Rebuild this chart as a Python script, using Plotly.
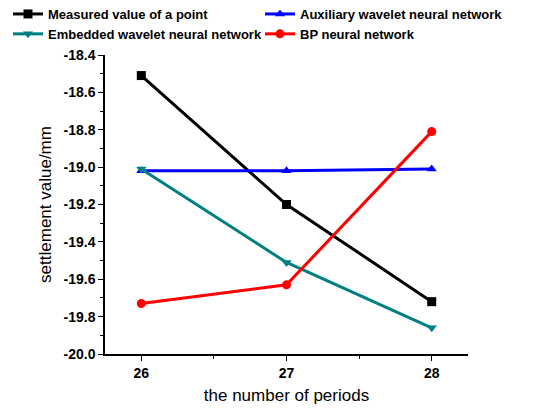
import plotly.graph_objects as go

periods = [26, 27, 28]
measured = [-18.51, -19.20, -19.72]
auxiliary = [-19.02, -19.02, -19.01]
embedded = [-19.01, -19.51, -19.86]
bp = [-19.73, -19.63, -18.81]

y_tick_vals = [-20.0, -19.8, -19.6, -19.4, -19.2, -19.0, -18.8, -18.6, -18.4]
y_tick_text = ["-20.0", "-19.8", "-19.6", "-19.4", "-19.2", "-19.0", "-18.8", "-18.6", "-18.4"]

series = [
    ("Measured value of a point", measured, "#000000", "square", "legend"),
    ("Auxiliary wavelet neural network", auxiliary, "#0000ff", "triangle-up", "legend2"),
    ("Embedded wavelet neural network", embedded, "#008080", "triangle-down", "legend"),
    ("BP neural network", bp, "#ff0000", "circle", "legend2"),
]

W, H = 527, 406
ML, MR, MT, MB = 97, 67, 47, 60
PW, PH = W - ML - MR, H - MT - MB

fig = go.Figure()
for name, vals, color, sym, leg in series:
    fig.add_trace(go.Scatter(
        x=periods, y=vals, name=name, mode="lines+markers",
        line=dict(color=color, width=3),
        marker=dict(symbol=sym, size=9, color=color),
        legend=leg,
    ))

legend_common = dict(
    orientation="v",
    yanchor="top", xanchor="left", y=1 + (MT + 9) / PH,
    font=dict(size=13, family="Liberation Sans, Arial, sans-serif", weight="bold"),
    tracegroupgap=0, itemwidth=30, bgcolor="rgba(0,0,0,0)",
)

fig.update_layout(
    width=W, height=H,
    margin=dict(l=ML, r=MR, t=MT, b=MB, autoexpand=False),
    plot_bgcolor="white", paper_bgcolor="white",
    font=dict(family="Liberation Sans, Arial, sans-serif", color="black"),
    legend=dict(legend_common, x=(0 - ML) / PW),
    legend2=dict(legend_common, x=(252 - ML) / PW),
    xaxis=dict(
        range=[25.75, 28.25], tickvals=periods, showgrid=False, zeroline=False,
        showline=True, linecolor="black", linewidth=1.5,
        ticks="outside", ticklen=5, tickcolor="black",
        minor=dict(ticks="outside", ticklen=3, dtick=0.5, tick0=26, tickcolor="black"),
        tickfont=dict(size=14, weight="bold"),
        title=dict(text="the number of periods", font=dict(size=17), standoff=10),
    ),
    yaxis=dict(
        range=[-20.0, -18.4], tickvals=y_tick_vals, ticktext=y_tick_text,
        showgrid=False, zeroline=False,
        showline=True, linecolor="black", linewidth=1.5,
        ticks="outside", ticklen=5, tickcolor="black",
        minor=dict(ticks="outside", ticklen=3, dtick=0.1, tickcolor="black"),
        tickfont=dict(size=14, weight="bold"),
        title=dict(text="settlement value/mm", font=dict(size=17), standoff=8),
    ),
)

fig.write_html("out.html")
